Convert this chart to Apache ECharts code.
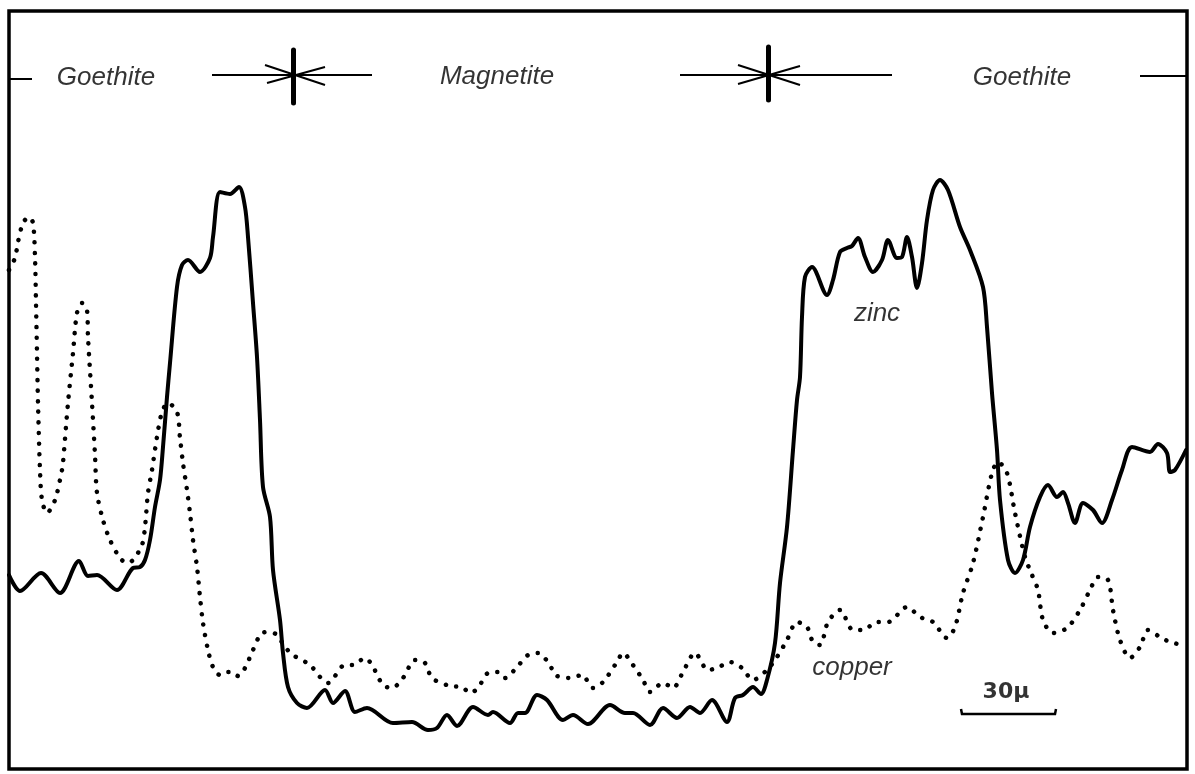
<!DOCTYPE html>
<html>
<head>
<meta charset="utf-8">
<script src="https://cdn.jsdelivr.net/npm/echarts@6/dist/echarts.min.js"></script>
<style>html,body{margin:0;padding:0;background:#fff}#c{width:1195px;height:774px}</style>
</head>
<body>
<div id="c"></div>
<script>
// Profile position (x) and signal level (y) (frame units: x from left edge, y from bottom edge)
const zincX = [0,11,32,51,70,79,88,108,124,131,136,141,146,151,154,158,161,168,173,179,191,201,204,211,221,230,236,239,244,248,251,254,261,264,271,274,279,288,298,316,324,336,346,358,384,403,419,428,438,448,464,479,484,501,509,516,528,538,554,564,579,601,616,624,641,654,668,681,691,703,718,726,734,744,752,758,766,771,778,784,788,791,793,796,803,818,824,831,838,843,849,856,864,873,879,888,893,898,903,908,913,918,924,931,939,951,961,974,978,983,988,991,999,1006,1014,1021,1031,1039,1048,1054,1059,1066,1074,1084,1093,1103,1113,1123,1141,1149,1158,1161,1166,1177];
const zincY = [194,178,196,176,208,193,194,179,201,202,209,229,262,289,322,372,406,482,504,509,497,511,532,577,575,582,562,532,466,412,349,282,252,199,149,116,82,66,61,79,66,78,57,61,46,47,39,41,54,43,62,54,57,46,56,56,74,69,49,54,45,64,56,56,44,61,51,62,56,69,47,71,74,82,75,89,126,186,242,319,369,392,452,492,502,474,489,517,521,523,531,512,497,509,529,511,512,532,512,481,506,549,579,589,579,542,519,482,442,376,319,269,209,196,209,242,272,284,272,277,266,246,266,259,246,269,299,322,317,325,316,297,299,319];
const copperX = [0,6,9,14,20,24,26,27,28,29,31,33,38,46,53,54,59,64,68,73,78,79,83,86,88,94,101,111,118,124,133,136,139,143,148,153,159,168,171,174,178,181,184,188,191,194,199,204,211,218,224,229,236,244,253,261,268,276,284,301,311,319,336,344,356,363,374,383,394,406,416,423,441,453,461,469,479,489,496,508,519,529,541,546,561,573,584,594,608,614,624,634,641,654,664,674,686,699,708,721,733,744,758,768,778,788,798,804,811,819,831,844,854,868,879,898,911,924,938,946,954,964,974,983,989,998,1006,1016,1023,1029,1034,1044,1058,1071,1081,1089,1099,1104,1111,1121,1131,1139,1151,1161,1174];
const copperY = [499,511,527,546,552,546,512,466,416,366,299,269,256,269,299,306,366,416,456,466,459,432,366,314,276,249,229,211,206,209,224,242,276,299,332,357,366,357,331,306,279,256,229,202,172,146,119,102,94,97,97,93,101,119,136,137,134,122,114,104,92,86,104,104,111,104,84,81,91,109,106,91,83,82,76,81,96,97,91,102,114,116,104,94,91,94,81,87,107,116,104,89,77,86,81,97,116,99,101,107,101,89,99,112,129,147,142,127,124,147,159,139,139,147,147,162,152,147,131,142,176,206,252,296,307,296,256,212,194,179,149,136,141,159,179,192,189,159,129,111,122,139,132,127,124];

const zinc = zincX.map((x, i) => [x, zincY[i]]);
const copper = copperX.map((x, i) => [x, copperY[i]]);

// Annotation texts and their anchor points (frame units)
const labels = [
  {name: 'Goethite', x: 97, y: 691, italic: true},
  {name: 'Magnetite', x: 488, y: 692, italic: true},
  {name: 'Goethite', x: 1013, y: 691, italic: true},
  {name: 'zinc', x: 868, y: 455, italic: true},
  {name: 'copper', x: 843, y: 101, italic: true},
  {name: '30\u03bc', x: 997, y: 77, italic: false}
];
// Phase boundary rulers (thin) and boundary marks
const thinSegments = [
  [[1,690],[23,690]],
  [[203,694],[363,694]],
  [[671,694],[883,694]],
  [[1131,693],[1178,693]],
  [[256,704],[316,684]],
  [[258,686],[316,702]],
  [[729,704],[791,684]],
  [[729,685],[791,703]]
];
const boundaryBars = [
  [[284,719],[284,666]],
  [[759,722],[759,669]]
];
const scaleBar = [[952,60],[953,55],[1046,55],[1047,60]];

const chart = echarts.init(document.getElementById('c'));
chart.setOption({
  animation: false,
  backgroundColor: '#fff',
  grid: {left: 9, top: 11, right: 8, bottom: 5, show: true, borderColor: '#000', borderWidth: 3.5},
  xAxis: {type: 'value', min: 0, max: 1178, show: false},
  yAxis: {type: 'value', min: 0, max: 758, show: false},
  series: [
    {
      name: 'zinc', type: 'line', data: zinc, smooth: 0.3, symbol: 'none',
      lineStyle: {color: '#000', width: 4, cap: 'round', join: 'round'}
    },
    {
      name: 'copper', type: 'line', data: copper, smooth: 0.3, symbol: 'none',
      lineStyle: {color: '#000', width: 4.5, type: [0.1, 10.5], cap: 'round'}
    },
    {
      type: 'lines', coordinateSystem: 'cartesian2d', polyline: false,
      lineStyle: {color: '#000', width: 2, opacity: 1},
      data: thinSegments.map(c => ({coords: c}))
    },
    {
      type: 'lines', coordinateSystem: 'cartesian2d',
      lineStyle: {color: '#000', width: 5, opacity: 1, cap: 'round'},
      data: boundaryBars.map(c => ({coords: c}))
    },
    {
      type: 'lines', coordinateSystem: 'cartesian2d', polyline: true,
      lineStyle: {color: '#000', width: 2.5, opacity: 1},
      data: [{coords: scaleBar}]
    },
    {
      type: 'scatter', symbolSize: 1, itemStyle: {color: 'rgba(0,0,0,0)'},
      data: labels.map(l => ({value: [l.x, l.y], name: l.name,
        label: l.italic
          ? {color: '#000', fontStyle: 'italic', fontFamily: 'Liberation Sans', fontSize: 26, fontWeight: 'normal'}
          : {color: '#000', fontStyle: 'normal', fontFamily: 'DejaVu Sans', fontSize: 22, fontWeight: 'bold'}})),
      label: {show: true, position: 'inside', color: '#000', formatter: p => p.name}
    }
  ]
});
</script>
</body>
</html>
